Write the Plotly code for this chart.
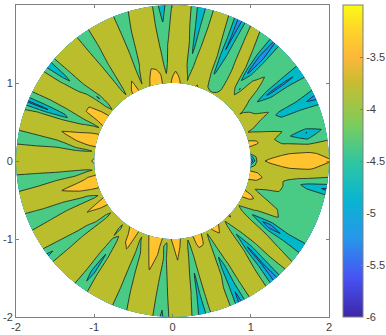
import numpy as np
import plotly.graph_objects as go

theta_deg = [
    0,3,6,9,12,15,18,21,24,27,
    30,32.5,35,37.5,40,42.5,45,47,49.5,52,
    54.5,57,59.5,62,64.5,67,69.5,72,74.5,77,
    79.5,82,85,88,90.5,92,94,96,98,100,
    103,106,109,111.5,114,117,120,122.5,125,128,
    131,134,137,139.5,142,144.5,147,150,153,155.5,
    157.5,160,163,165,168,170.5,173,176,180,184,
    186.5,189,192,195,198,200,202.5,205,208,211,
    214,217,220,223,226,229,232,234.5,237,240,
    242.5,245,248,250.5,253,256,258,261,263.5,266,
    269,273,275,278,281,284,287,290,293,295.5,
    298,300.5,303,306,308.5,311,313.5,316,318,320.5,
    323,326,329,332,335,338,341,344,347,349.5,
    352,354,357]
radii = [1.0, 1.1, 1.25, 1.5, 1.75, 2.0]

z_r100 = [
    -5.6,-4.8,-3.7,-3.6,-3.4,-3.5,-3.7,-3.95,-3.7,-3.6,
    -3.7,-3.8,-3.95,-3.7,-3.6,-3.6,-3.6,-3.6,-3.7,-3.7,
    -3.75,-3.85,-3.95,-3.95,-3.9,-3.7,-3.6,-3.45,-3.6,-3.7,
    -3.95,-3.65,-3.45,-3.3,-3.45,-3.6,-3.8,-3.6,-3.45,-3.3,
    -3.3,-3.45,-3.7,-3.95,-3.6,-3.4,-3.45,-3.7,-3.95,-3.7,
    -3.7,-3.7,-3.75,-3.95,-3.6,-3.5,-3.3,-3.3,-3.5,-3.95,
    -3.65,-3.5,-3.3,-3.2,-3.35,-3.6,-3.95,-3.55,-3.45,-3.55,
    -3.95,-3.6,-3.4,-3.2,-3.3,-3.5,-3.7,-3.95,-3.5,-3.3,
    -3.5,-3.7,-3.95,-3.7,-3.7,-3.7,-3.95,-3.7,-3.5,-3.3,
    -3.3,-3.55,-3.95,-3.65,-3.45,-3.3,-3.2,-3.3,-3.6,-3.95,
    -3.5,-3.3,-3.45,-3.65,-3.95,-3.6,-3.35,-3.35,-3.65,-3.95,
    -3.6,-3.45,-3.4,-3.5,-3.7,-3.95,-3.7,-3.45,-3.6,-3.7,
    -3.8,-3.95,-3.7,-3.55,-3.35,-3.5,-3.7,-3.7,-3.45,-3.3,
    -3.45,-3.6,-4.5]
z_r110 = [
    -3.6,-3.6,-3.6,-3.7,-3.45,-3.55,-3.85,-4.1,-3.75,-3.65,
    -3.7,-3.85,-4.05,-3.7,-3.6,-3.6,-3.6,-3.65,-3.7,-3.75,
    -3.85,-4.15,-4.2,-4.2,-4.1,-3.75,-3.7,-3.65,-3.7,-3.75,
    -4.05,-3.75,-3.55,-3.42,-3.55,-3.7,-3.97,-3.7,-3.45,-3.35,
    -3.35,-3.55,-3.8,-4.03,-3.7,-3.45,-3.55,-3.75,-4.08,-3.75,
    -3.7,-3.7,-3.75,-4.25,-3.7,-3.55,-3.35,-3.35,-3.65,-4.1,
    -3.75,-3.6,-3.3,-3.15,-3.3,-3.7,-4.08,-3.6,-3.6,-3.7,
    -4.1,-3.7,-3.4,-3.15,-3.3,-3.6,-3.95,-4.05,-3.6,-3.35,
    -3.55,-3.8,-4.1,-3.7,-3.7,-3.7,-4.08,-3.8,-3.7,-3.4,
    -3.35,-3.65,-4.05,-3.8,-3.6,-3.3,-3.2,-3.35,-3.98,-4.05,
    -3.65,-3.3,-3.5,-3.75,-4.1,-3.7,-3.4,-3.42,-3.75,-4.1,
    -3.7,-3.6,-3.5,-3.65,-3.8,-4.15,-3.8,-3.6,-3.7,-3.8,
    -3.9,-4.15,-3.8,-3.6,-3.4,-3.6,-3.98,-3.8,-3.5,-3.35,
    -3.5,-3.65,-3.6]
z_r125 = [
    -3.42,-3.6,-3.7,-3.9,-3.8,-3.7,-4.05,-4.25,-4.15,-3.75,
    -4.1,-4.2,-4.25,-4.12,-3.8,-3.65,-3.6,-4.52,-4.05,-3.75,
    -3.7,-4.15,-4.2,-4.25,-4.55,-3.85,-3.7,-3.7,-3.7,-3.92,
    -4.35,-3.9,-3.7,-3.65,-3.7,-3.85,-4.15,-3.9,-3.7,-3.6,
    -3.55,-3.7,-3.98,-4.05,-3.7,-3.6,-3.7,-3.8,-4.15,-3.75,
    -3.7,-3.7,-3.7,-4.55,-3.75,-3.65,-3.48,-3.48,-3.7,-4.15,
    -4.05,-3.7,-3.5,-3.2,-3.5,-3.85,-4.1,-3.7,-3.7,-3.6,
    -4.2,-3.98,-3.7,-3.2,-3.5,-3.7,-4.05,-4.03,-3.7,-3.48,
    -3.7,-3.95,-4.05,-3.7,-3.7,-3.7,-3.97,-4.15,-3.7,-3.55,
    -3.48,-3.65,-4.0,-4.05,-3.7,-3.5,-3.25,-3.55,-3.95,-4.05,
    -3.7,-3.48,-3.7,-3.8,-4.2,-3.8,-3.65,-3.7,-3.8,-4.25,
    -3.85,-3.7,-3.65,-3.7,-3.8,-4.52,-4.02,-3.75,-3.7,-3.75,
    -4.0,-4.55,-4.03,-3.85,-3.75,-3.98,-4.15,-3.9,-3.7,-3.7,
    -3.7,-3.7,-3.6]
z_r150 = [
    -3.2,-3.44,-3.75,-4.05,-4.4,-4.08,-4.3,-4.45,-4.6,-4.25,
    -4.25,-4.35,-5.1,-4.15,-4.12,-3.85,-4.1,-4.3,-5.1,-3.98,
    -3.7,-3.9,-4.2,-4.25,-4.95,-4.02,-3.75,-3.7,-3.75,-4.15,
    -4.6,-3.97,-3.7,-3.7,-3.75,-3.95,-4.25,-4.05,-3.8,-3.7,
    -3.7,-3.75,-4.1,-4.02,-3.7,-3.7,-3.7,-3.85,-4.25,-3.8,
    -3.7,-3.7,-3.75,-4.05,-4.2,-3.85,-3.7,-3.7,-3.85,-4.4,
    -4.6,-3.8,-3.65,-3.55,-3.75,-4.12,-4.02,-3.7,-3.7,-3.8,
    -4.12,-4.08,-3.65,-3.55,-3.7,-3.9,-4.25,-4.02,-3.7,-3.7,
    -3.75,-4.05,-4.0,-3.7,-3.7,-3.75,-4.02,-4.55,-3.8,-3.7,
    -3.7,-3.7,-4.02,-4.2,-3.7,-3.65,-3.6,-3.7,-3.98,-4.2,
    -3.75,-3.7,-3.7,-3.9,-4.55,-3.75,-3.7,-3.7,-3.9,-4.8,
    -4.05,-3.7,-3.7,-3.75,-4.02,-5.1,-4.25,-3.85,-3.7,-3.85,
    -4.1,-5.35,-4.15,-3.97,-4.02,-4.2,-4.2,-4.05,-4.08,-4.1,
    -3.9,-3.75,-3.44]
z_r175 = [
    -3.2,-3.44,-3.75,-4.45,-5.02,-4.05,-4.3,-4.4,-4.8,-4.25,
    -4.3,-4.35,-5.1,-4.4,-4.25,-4.25,-4.25,-4.4,-5.4,-4.3,
    -3.95,-3.7,-4.05,-4.3,-5.1,-4.15,-3.85,-3.7,-3.9,-4.25,
    -4.7,-4.1,-3.7,-3.7,-3.85,-4.2,-4.45,-4.2,-3.85,-3.7,
    -3.7,-3.8,-4.2,-4.05,-3.7,-3.7,-3.7,-3.98,-4.3,-3.9,
    -3.7,-3.7,-3.8,-4.05,-4.65,-4.03,-3.7,-3.7,-3.95,-4.3,
    -5.05,-3.95,-3.7,-3.7,-3.85,-4.2,-4.08,-3.7,-3.7,-3.8,
    -4.2,-4.25,-3.8,-3.7,-3.75,-3.95,-4.3,-4.12,-3.7,-3.7,
    -3.8,-4.3,-4.02,-3.7,-3.7,-3.75,-4.02,-4.75,-3.8,-3.7,
    -3.7,-3.75,-4.02,-4.3,-3.85,-3.7,-3.7,-3.75,-4.05,-4.3,
    -3.85,-3.7,-3.7,-4.02,-4.65,-3.9,-3.7,-3.75,-4.15,-4.85,
    -4.15,-3.7,-3.7,-3.8,-4.25,-5.1,-4.3,-3.9,-3.7,-3.97,
    -4.3,-4.8,-4.25,-4.2,-4.2,-4.2,-4.2,-4.2,-4.3,-4.7,
    -4.1,-3.8,-3.44]
z_r200 = [
    -3.46,-3.6,-3.7,-4.25,-4.35,-4.35,-4.3,-4.45,-5.2,-4.5,
    -4.3,-4.5,-4.9,-4.5,-4.3,-4.3,-4.3,-4.4,-5.1,-4.3,
    -4.25,-3.85,-3.9,-4.35,-5.3,-4.35,-3.9,-3.7,-3.95,-4.3,
    -4.9,-4.15,-3.75,-3.7,-4.05,-4.3,-4.8,-4.3,-3.85,-3.7,
    -3.7,-3.95,-4.3,-4.1,-3.7,-3.7,-3.8,-4.0,-4.3,-3.95,
    -3.7,-3.7,-3.8,-4.05,-4.9,-4.1,-3.7,-3.7,-3.9,-4.3,
    -5.1,-4.1,-3.7,-3.7,-3.9,-4.3,-4.1,-3.7,-3.65,-3.8,
    -4.25,-4.3,-3.9,-3.7,-3.7,-4.05,-4.35,-4.2,-3.75,-3.7,
    -3.95,-4.6,-4.02,-3.7,-3.7,-3.75,-4.05,-4.3,-4.0,-3.7,
    -3.7,-3.75,-4.05,-4.35,-4.0,-3.7,-3.7,-3.75,-4.1,-4.6,
    -3.92,-3.7,-3.75,-4.1,-4.85,-4.02,-3.7,-3.75,-4.2,-5.2,
    -4.25,-3.8,-3.7,-3.85,-4.45,-5.3,-4.3,-4.02,-3.75,-4.1,
    -4.3,-4.9,-4.3,-4.3,-4.3,-4.3,-4.3,-4.3,-4.35,-5.1,
    -4.3,-4.0,-3.7]

level_start, level_end, level_step = -6, -3, 0.5
band_colors = ["#443cc8", "#288cec", "#00b9c8", "#4acb85", "#babe2d", "#ffc32d"]
parula_positions = [0, 0.125, 0.25, 0.375, 0.5, 0.625, 0.75, 0.833, 0.917, 1]
parula_colors = ["#3e26a8", "#4852f4", "#2796eb", "#08b5d0", "#31c69f",
                 "#81cc59", "#c8bc30", "#fdb83a", "#fed32a", "#f9fb14"]
x_ticks = [-2, -1, 0, 1, 2]
bar_ticks = [-6, -5.5, -5, -4.5, -4, -3.5, -3]

INK = "#404040"
EDGE = "#7f7f7f"

theta = np.radians(np.append(theta_deg, 360.0))
rows = [z_r100, z_r110, z_r125, z_r150, z_r175, z_r200]
z = np.array([row + row[:1] for row in rows])
rr, tt = np.meshgrid(radii, theta, indexing="ij")

hidden = dict(showgrid=False, showline=False, showticklabels="none", startline=False,
              endline=False, minorgridcount=0, smoothing=0, tickmode="array", tickvals=[])

step_scale = []
for i, c in enumerate(band_colors):
    step_scale += [[i / 6, c], [(i + 1) / 6, c]]

fig = go.Figure()
fig.add_trace(go.Carpet(carpet="ring", a=np.degrees(theta), b=radii,
                        x=rr * np.cos(tt), y=rr * np.sin(tt),
                        aaxis=hidden, baxis=hidden))
fig.add_trace(go.Contourcarpet(carpet="ring", a=np.degrees(theta), b=radii, z=z,
                               autocontour=False, showscale=False,
                               zmin=level_start, zmax=level_end,
                               colorscale=step_scale,
                               contours=dict(start=level_start, end=level_end, size=level_step,
                                             coloring="fill", showlines=True),
                               line=dict(color="#1a1a1a", width=0.8, smoothing=0.3)))
fig.add_trace(go.Scatter(x=[None], y=[None], mode="markers", showlegend=False,
                         marker=dict(color=[level_start], cmin=level_start, cmax=level_end, showscale=True,
                                     colorscale=[[p, c] for p, c in zip(parula_positions, parula_colors)],
                                     colorbar=dict(x=1.0438, xanchor="left", xref="paper", y=0, yanchor="bottom",
                                                   yref="paper", len=1, lenmode="fraction", thickness=20,
                                                   thicknessmode="pixels", xpad=0, ypad=0,
                                                   outlinecolor=EDGE, outlinewidth=1,
                                                   tickmode="array", tickvals=bar_ticks,
                                                   ticktext=[f"{v:g}" for v in bar_ticks],
                                                   ticks="inside", ticklen=3, tickcolor=EDGE,
                                                   tickfont=dict(family="Liberation Sans", size=11, color=INK)))))
axis = dict(range=[-2, 2], tickmode="array", tickvals=x_ticks, ticktext=[str(v) for v in x_ticks],
            ticks="inside", ticklen=3, tickcolor=EDGE, tickwidth=1, showline=True, linecolor=EDGE,
            linewidth=1, mirror="ticks", showgrid=False, zeroline=False,
            tickfont=dict(family="Liberation Sans", size=11, color=INK))
fig.update_layout(width=386, height=335, margin=dict(l=16, r=57, t=5, b=18, autoexpand=False),
                  paper_bgcolor="white", plot_bgcolor="white", showlegend=False,
                  xaxis=axis, yaxis=axis)
fig.write_html("out.html", config=dict(displayModeBar=False),
               post_script="document.body.style.margin='0';document.body.style.overflow='hidden';")
